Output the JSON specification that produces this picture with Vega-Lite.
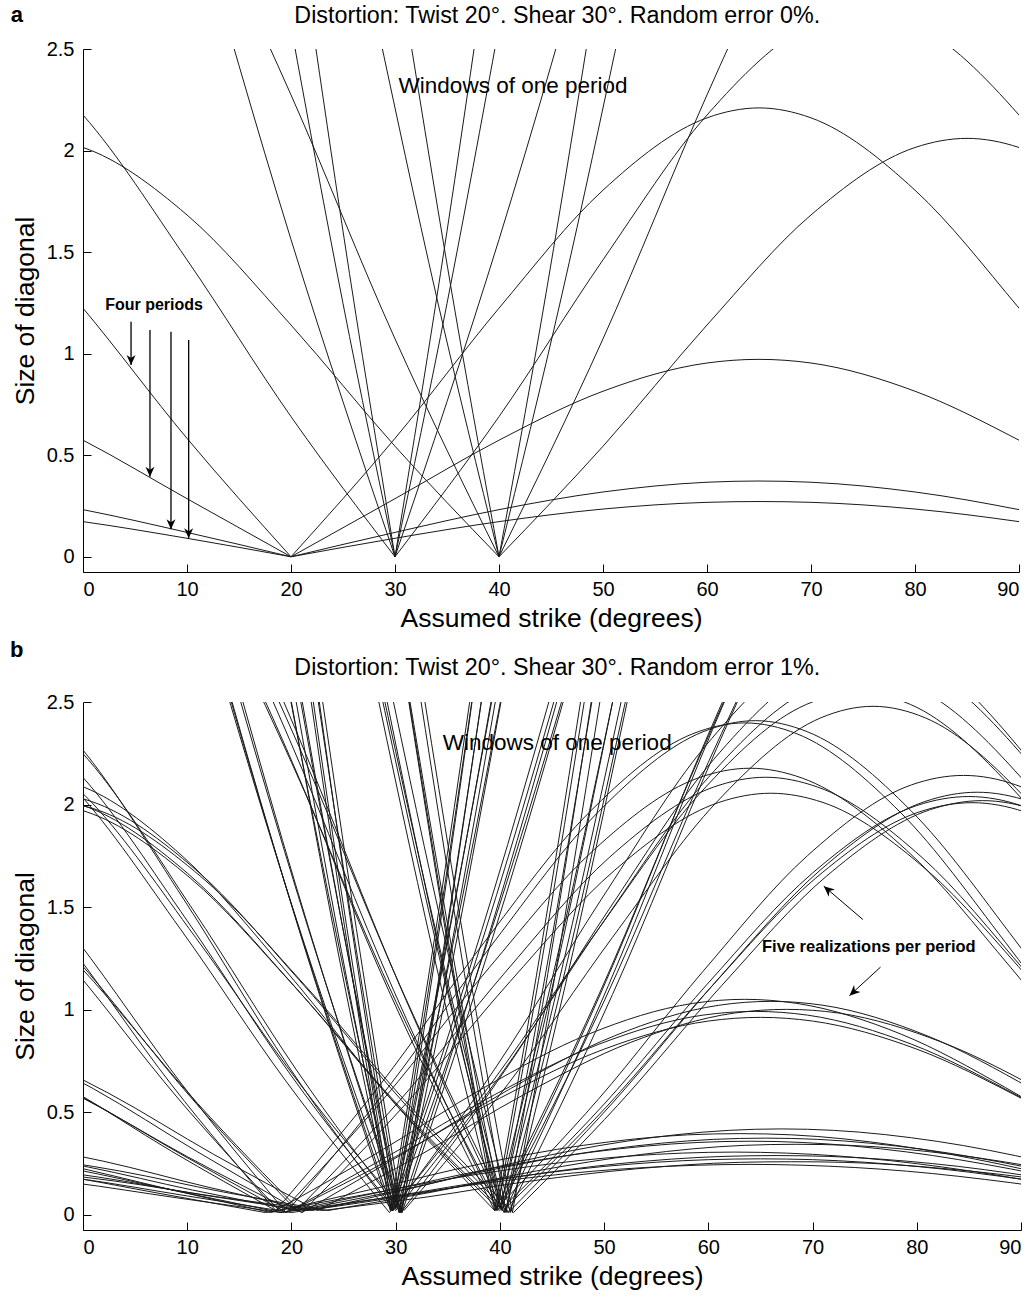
{
"$schema": "https://vega.github.io/schema/vega-lite/v6.json",
"background": "white",
"padding": {"left": 10, "top": 4, "right": 10, "bottom": 5},
"spacing": 6,
"config": {
 "view": {"stroke": null},
 "font": "Liberation Sans",
 "axis": {"domainColor": "black", "tickColor": "black", "labelColor": "black", "titleColor": "black", "labelFont": "Liberation Sans", "titleFont": "Liberation Sans", "labelFontSize": 20, "titleFontSize": 26.5, "titleFontWeight": "normal", "grid": false, "tickSize": -8, "domainWidth": 1, "tickWidth": 1}
},
"datasets": {
 "ca": [
{"s":"1L","x":-10,"y":0.235},{"s":"1L","x":0,"y":0.173},{"s":"1L","x":10,"y":0.091},{"s":"1L","x":20,"y":0},
{"s":"1R","x":20,"y":0},{"s":"1R","x":30,"y":0.091},{"s":"1R","x":40,"y":0.173},{"s":"1R","x":50,"y":0.235},{"s":"1R","x":60,"y":0.268},{"s":"1R","x":65,"y":0.272},{"s":"1R","x":70,"y":0.268},{"s":"1R","x":80,"y":0.235},{"s":"1R","x":90,"y":0.173},{"s":"1R","x":100,"y":0.091},
{"s":"2L","x":-10,"y":0.319},{"s":"2L","x":0,"y":0.232},{"s":"2L","x":10,"y":0.120},{"s":"2L","x":20,"y":0},
{"s":"2R","x":20,"y":0},{"s":"2R","x":30,"y":0.120},{"s":"2R","x":40,"y":0.232},{"s":"2R","x":50,"y":0.319},{"s":"2R","x":60,"y":0.367},{"s":"2R","x":65,"y":0.373},{"s":"2R","x":70,"y":0.367},{"s":"2R","x":80,"y":0.319},{"s":"2R","x":90,"y":0.232},{"s":"2R","x":100,"y":0.120},
{"s":"3L","x":-10,"y":0.815},{"s":"3L","x":0,"y":0.574},{"s":"3L","x":10,"y":0.286},{"s":"3L","x":20,"y":0},
{"s":"3R","x":20,"y":0},{"s":"3R","x":30,"y":0.286},{"s":"3R","x":40,"y":0.574},{"s":"3R","x":50,"y":0.815},{"s":"3R","x":60,"y":0.954},{"s":"3R","x":65,"y":0.972},{"s":"3R","x":70,"y":0.954},{"s":"3R","x":80,"y":0.815},{"s":"3R","x":90,"y":0.574},{"s":"3R","x":100,"y":0.286},
{"s":"4L","x":-10,"y":1.805},{"s":"4L","x":0,"y":1.224},{"s":"4L","x":10,"y":0.583},{"s":"4L","x":20,"y":0},
{"s":"4R","x":20,"y":0},{"s":"4R","x":30,"y":0.583},{"s":"4R","x":40,"y":1.224},{"s":"4R","x":50,"y":1.805},{"s":"4R","x":60,"y":2.161},{"s":"4R","x":65,"y":2.21},{"s":"4R","x":70,"y":2.161},{"s":"4R","x":80,"y":1.805},{"s":"4R","x":90,"y":1.224},{"s":"4R","x":100,"y":0.583},
{"s":"5L","x":-10,"y":2.015},{"s":"5L","x":-5,"y":2.06},{"s":"5L","x":0,"y":2.015},{"s":"5L","x":10,"y":1.683},{"s":"5L","x":20,"y":1.141},{"s":"5L","x":30,"y":0.544},{"s":"5L","x":40,"y":0},
{"s":"5R","x":40,"y":0},{"s":"5R","x":50,"y":0.544},{"s":"5R","x":60,"y":1.141},{"s":"5R","x":70,"y":1.683},{"s":"5R","x":80,"y":2.015},{"s":"5R","x":85,"y":2.06},{"s":"5R","x":90,"y":2.015},{"s":"5R","x":100,"y":1.683},
{"s":"6L","x":-10,"y":2.619},{"s":"6L","x":0,"y":2.175},{"s":"6L","x":10,"y":1.462},{"s":"6L","x":20,"y":0.690},{"s":"6L","x":30,"y":0},
{"s":"6R","x":30,"y":0},{"s":"6R","x":40,"y":0.690},{"s":"6R","x":50,"y":1.462},{"s":"6R","x":60,"y":2.175},{"s":"6R","x":70,"y":2.619},{"s":"6R","x":75,"y":2.68},{"s":"6R","x":80,"y":2.619},{"s":"6R","x":90,"y":2.175},{"s":"6R","x":100,"y":1.462},
{"s":"7L","x":10,"y":3.384},{"s":"7L","x":20,"y":2.274},{"s":"7L","x":30,"y":1.073},{"s":"7L","x":40,"y":0},
{"s":"7R","x":40,"y":0},{"s":"7R","x":50,"y":1.073},{"s":"7R","x":60,"y":2.274},{"s":"7R","x":70,"y":3.384},
{"s":"8L","x":10,"y":3.31},{"s":"8L","x":20,"y":1.562},{"s":"8L","x":30,"y":0},
{"s":"8R","x":30,"y":0},{"s":"8R","x":40,"y":1.562},{"s":"8R","x":50,"y":3.31},
{"s":"9L","x":20,"y":2.611},{"s":"9L","x":25,"y":1.247},{"s":"9L","x":30,"y":0},
{"s":"9R","x":30,"y":0},{"s":"9R","x":35,"y":1.247},{"s":"9R","x":40,"y":2.611},
{"s":"10L","x":22,"y":2.64},{"s":"10L","x":25,"y":1.603},{"s":"10L","x":30,"y":0},
{"s":"10R","x":30,"y":0},{"s":"10R","x":35,"y":1.603},{"s":"10R","x":38,"y":2.64},
{"s":"11L","x":28,"y":2.69},{"s":"11L","x":34,"y":1.279},{"s":"11L","x":40,"y":0},
{"s":"11R","x":40,"y":0},{"s":"11R","x":46,"y":1.279},{"s":"11R","x":52,"y":2.69},
{"s":"12L","x":31,"y":2.694},{"s":"12L","x":36,"y":1.141},{"s":"12L","x":40,"y":0},
{"s":"12R","x":40,"y":0},{"s":"12R","x":44,"y":1.141},{"s":"12R","x":49,"y":2.694}
 ],
 "cb": [
{"s":"1aL","x":-12.5,"y":0.263},{"s":"1aL","x":-2.5,"y":0.194},{"s":"1aL","x":7.5,"y":0.102},{"s":"1aL","x":17.5,"y":0.01},
{"s":"1aR","x":17.5,"y":0.01},{"s":"1aR","x":27.5,"y":0.102},{"s":"1aR","x":37.5,"y":0.194},{"s":"1aR","x":47.5,"y":0.263},{"s":"1aR","x":57.5,"y":0.300},{"s":"1aR","x":62.5,"y":0.305},{"s":"1aR","x":67.5,"y":0.300},{"s":"1aR","x":77.5,"y":0.263},{"s":"1aR","x":87.5,"y":0.194},{"s":"1aR","x":97.5,"y":0.102},
{"s":"1bL","x":-8.5,"y":0.249},{"s":"1bL","x":1.5,"y":0.183},{"s":"1bL","x":11.5,"y":0.096},{"s":"1bL","x":21.5,"y":0.02},
{"s":"1bR","x":21.5,"y":0.02},{"s":"1bR","x":31.5,"y":0.096},{"s":"1bR","x":41.5,"y":0.183},{"s":"1bR","x":51.5,"y":0.249},{"s":"1bR","x":61.5,"y":0.284},{"s":"1bR","x":66.5,"y":0.288},{"s":"1bR","x":71.5,"y":0.284},{"s":"1bR","x":81.5,"y":0.249},{"s":"1bR","x":91.5,"y":0.183},{"s":"1bR","x":101.5,"y":0.096},
{"s":"1cL","x":-10,"y":0.235},{"s":"1cL","x":0,"y":0.173},{"s":"1cL","x":10,"y":0.091},{"s":"1cL","x":20,"y":0.01},
{"s":"1cR","x":20,"y":0.01},{"s":"1cR","x":30,"y":0.091},{"s":"1cR","x":40,"y":0.173},{"s":"1cR","x":50,"y":0.235},{"s":"1cR","x":60,"y":0.268},{"s":"1cR","x":65,"y":0.272},{"s":"1cR","x":70,"y":0.268},{"s":"1cR","x":80,"y":0.235},{"s":"1cR","x":90,"y":0.173},{"s":"1cR","x":100,"y":0.091},
{"s":"1dL","x":-7,"y":0.223},{"s":"1dL","x":3,"y":0.164},{"s":"1dL","x":13,"y":0.086},{"s":"1dL","x":23,"y":0.02},
{"s":"1dR","x":23,"y":0.02},{"s":"1dR","x":33,"y":0.086},{"s":"1dR","x":43,"y":0.164},{"s":"1dR","x":53,"y":0.223},{"s":"1dR","x":63,"y":0.255},{"s":"1dR","x":68,"y":0.258},{"s":"1dR","x":73,"y":0.255},{"s":"1dR","x":83,"y":0.223},{"s":"1dR","x":93,"y":0.164},{"s":"1dR","x":103,"y":0.086},
{"s":"1eL","x":-11,"y":0.212},{"s":"1eL","x":-1,"y":0.156},{"s":"1eL","x":9,"y":0.082},{"s":"1eL","x":19,"y":0.01},
{"s":"1eR","x":19,"y":0.01},{"s":"1eR","x":29,"y":0.082},{"s":"1eR","x":39,"y":0.156},{"s":"1eR","x":49,"y":0.212},{"s":"1eR","x":59,"y":0.241},{"s":"1eR","x":64,"y":0.245},{"s":"1eR","x":69,"y":0.241},{"s":"1eR","x":79,"y":0.212},{"s":"1eR","x":89,"y":0.156},{"s":"1eR","x":99,"y":0.082},
{"s":"2aL","x":-8,"y":0.357},{"s":"2aL","x":2,"y":0.260},{"s":"2aL","x":12,"y":0.134},{"s":"2aL","x":22,"y":0.02},
{"s":"2aR","x":22,"y":0.02},{"s":"2aR","x":32,"y":0.134},{"s":"2aR","x":42,"y":0.260},{"s":"2aR","x":52,"y":0.357},{"s":"2aR","x":62,"y":0.411},{"s":"2aR","x":67,"y":0.418},{"s":"2aR","x":72,"y":0.411},{"s":"2aR","x":82,"y":0.357},{"s":"2aR","x":92,"y":0.260},{"s":"2aR","x":102,"y":0.134},
{"s":"2bL","x":-12,"y":0.338},{"s":"2bL","x":-2,"y":0.246},{"s":"2bL","x":8,"y":0.127},{"s":"2bL","x":18,"y":0.01},
{"s":"2bR","x":18,"y":0.01},{"s":"2bR","x":28,"y":0.127},{"s":"2bR","x":38,"y":0.246},{"s":"2bR","x":48,"y":0.338},{"s":"2bR","x":58,"y":0.389},{"s":"2bR","x":63,"y":0.395},{"s":"2bR","x":68,"y":0.389},{"s":"2bR","x":78,"y":0.338},{"s":"2bR","x":88,"y":0.246},{"s":"2bR","x":98,"y":0.127},
{"s":"2cL","x":-9.5,"y":0.319},{"s":"2cL","x":0.5,"y":0.232},{"s":"2cL","x":10.5,"y":0.120},{"s":"2cL","x":20.5,"y":0.02},
{"s":"2cR","x":20.5,"y":0.02},{"s":"2cR","x":30.5,"y":0.120},{"s":"2cR","x":40.5,"y":0.232},{"s":"2cR","x":50.5,"y":0.319},{"s":"2cR","x":60.5,"y":0.367},{"s":"2cR","x":65.5,"y":0.373},{"s":"2cR","x":70.5,"y":0.367},{"s":"2cR","x":80.5,"y":0.319},{"s":"2cR","x":90.5,"y":0.232},{"s":"2cR","x":100.5,"y":0.120},
{"s":"2dL","x":-11,"y":0.306},{"s":"2dL","x":-1,"y":0.223},{"s":"2dL","x":9,"y":0.115},{"s":"2dL","x":19,"y":0.01},
{"s":"2dR","x":19,"y":0.01},{"s":"2dR","x":29,"y":0.115},{"s":"2dR","x":39,"y":0.223},{"s":"2dR","x":49,"y":0.306},{"s":"2dR","x":59,"y":0.352},{"s":"2dR","x":64,"y":0.358},{"s":"2dR","x":69,"y":0.352},{"s":"2dR","x":79,"y":0.306},{"s":"2dR","x":89,"y":0.223},{"s":"2dR","x":99,"y":0.115},
{"s":"2eL","x":-6.5,"y":0.293},{"s":"2eL","x":3.5,"y":0.213},{"s":"2eL","x":13.5,"y":0.110},{"s":"2eL","x":23.5,"y":0.02},
{"s":"2eR","x":23.5,"y":0.02},{"s":"2eR","x":33.5,"y":0.110},{"s":"2eR","x":43.5,"y":0.213},{"s":"2eR","x":53.5,"y":0.293},{"s":"2eR","x":63.5,"y":0.338},{"s":"2eR","x":68.5,"y":0.343},{"s":"2eR","x":73.5,"y":0.338},{"s":"2eR","x":83.5,"y":0.293},{"s":"2eR","x":93.5,"y":0.213},{"s":"2eR","x":103.5,"y":0.110},
{"s":"3aL","x":-11.5,"y":0.880},{"s":"3aL","x":-1.5,"y":0.620},{"s":"3aL","x":8.5,"y":0.309},{"s":"3aL","x":18.5,"y":0.02},
{"s":"3aR","x":18.5,"y":0.02},{"s":"3aR","x":28.5,"y":0.309},{"s":"3aR","x":38.5,"y":0.620},{"s":"3aR","x":48.5,"y":0.880},{"s":"3aR","x":58.5,"y":1.030},{"s":"3aR","x":63.5,"y":1.050},{"s":"3aR","x":68.5,"y":1.030},{"s":"3aR","x":78.5,"y":0.880},{"s":"3aR","x":88.5,"y":0.620},{"s":"3aR","x":98.5,"y":0.309},
{"s":"3bL","x":-9,"y":0.872},{"s":"3bL","x":1,"y":0.614},{"s":"3bL","x":11,"y":0.306},{"s":"3bL","x":21,"y":0.01},
{"s":"3bR","x":21,"y":0.01},{"s":"3bR","x":31,"y":0.306},{"s":"3bR","x":41,"y":0.614},{"s":"3bR","x":51,"y":0.872},{"s":"3bR","x":61,"y":1.021},{"s":"3bR","x":66,"y":1.040},{"s":"3bR","x":71,"y":1.021},{"s":"3bR","x":81,"y":0.872},{"s":"3bR","x":91,"y":0.614},{"s":"3bR","x":101,"y":0.306},
{"s":"3cL","x":-7.5,"y":0.839},{"s":"3cL","x":2.5,"y":0.591},{"s":"3cL","x":12.5,"y":0.295},{"s":"3cL","x":22.5,"y":0.02},
{"s":"3cR","x":22.5,"y":0.02},{"s":"3cR","x":32.5,"y":0.295},{"s":"3cR","x":42.5,"y":0.591},{"s":"3cR","x":52.5,"y":0.839},{"s":"3cR","x":62.5,"y":0.983},{"s":"3cR","x":67.5,"y":1.001},{"s":"3cR","x":72.5,"y":0.983},{"s":"3cR","x":82.5,"y":0.839},{"s":"3cR","x":92.5,"y":0.591},{"s":"3cR","x":102.5,"y":0.295},
{"s":"3dL","x":-10.5,"y":0.831},{"s":"3dL","x":-0.5,"y":0.585},{"s":"3dL","x":9.5,"y":0.292},{"s":"3dL","x":19.5,"y":0.01},
{"s":"3dR","x":19.5,"y":0.01},{"s":"3dR","x":29.5,"y":0.292},{"s":"3dR","x":39.5,"y":0.585},{"s":"3dR","x":49.5,"y":0.831},{"s":"3dR","x":59.5,"y":0.973},{"s":"3dR","x":64.5,"y":0.991},{"s":"3dR","x":69.5,"y":0.973},{"s":"3dR","x":79.5,"y":0.831},{"s":"3dR","x":89.5,"y":0.585},{"s":"3dR","x":99.5,"y":0.292},
{"s":"3eL","x":-10,"y":0.807},{"s":"3eL","x":0,"y":0.568},{"s":"3eL","x":10,"y":0.283},{"s":"3eL","x":20,"y":0.02},
{"s":"3eR","x":20,"y":0.02},{"s":"3eR","x":30,"y":0.283},{"s":"3eR","x":40,"y":0.568},{"s":"3eR","x":50,"y":0.807},{"s":"3eR","x":60,"y":0.944},{"s":"3eR","x":65,"y":0.962},{"s":"3eR","x":70,"y":0.944},{"s":"3eR","x":80,"y":0.807},{"s":"3eR","x":90,"y":0.568},{"s":"3eR","x":100,"y":0.283},
{"s":"4aL","x":-10.5,"y":1.967},{"s":"4aL","x":-0.5,"y":1.334},{"s":"4aL","x":9.5,"y":0.635},{"s":"4aL","x":19.5,"y":0.01},
{"s":"4aR","x":19.5,"y":0.01},{"s":"4aR","x":29.5,"y":0.635},{"s":"4aR","x":39.5,"y":1.334},{"s":"4aR","x":49.5,"y":1.967},{"s":"4aR","x":59.5,"y":2.355},{"s":"4aR","x":64.5,"y":2.409},{"s":"4aR","x":69.5,"y":2.355},{"s":"4aR","x":79.5,"y":1.967},{"s":"4aR","x":89.5,"y":1.334},{"s":"4aR","x":99.5,"y":0.635},
{"s":"4bL","x":-11.5,"y":1.958},{"s":"4bL","x":-1.5,"y":1.328},{"s":"4bL","x":8.5,"y":0.633},{"s":"4bL","x":18.5,"y":0.02},
{"s":"4bR","x":18.5,"y":0.02},{"s":"4bR","x":28.5,"y":0.633},{"s":"4bR","x":38.5,"y":1.328},{"s":"4bR","x":48.5,"y":1.958},{"s":"4bR","x":58.5,"y":2.345},{"s":"4bR","x":63.5,"y":2.398},{"s":"4bR","x":68.5,"y":2.345},{"s":"4bR","x":78.5,"y":1.958},{"s":"4bR","x":88.5,"y":1.328},{"s":"4bR","x":98.5,"y":0.633},
{"s":"4cL","x":-11,"y":1.778},{"s":"4cL","x":-1,"y":1.206},{"s":"4cL","x":9,"y":0.574},{"s":"4cL","x":19,"y":0.01},
{"s":"4cR","x":19,"y":0.01},{"s":"4cR","x":29,"y":0.574},{"s":"4cR","x":39,"y":1.206},{"s":"4cR","x":49,"y":1.778},{"s":"4cR","x":59,"y":2.129},{"s":"4cR","x":64,"y":2.177},{"s":"4cR","x":69,"y":2.129},{"s":"4cR","x":79,"y":1.778},{"s":"4cR","x":89,"y":1.206},{"s":"4cR","x":99,"y":0.574},
{"s":"4dL","x":-9.5,"y":1.742},{"s":"4dL","x":0.5,"y":1.181},{"s":"4dL","x":10.5,"y":0.563},{"s":"4dL","x":20.5,"y":0.02},
{"s":"4dR","x":20.5,"y":0.02},{"s":"4dR","x":30.5,"y":0.563},{"s":"4dR","x":40.5,"y":1.181},{"s":"4dR","x":50.5,"y":1.742},{"s":"4dR","x":60.5,"y":2.085},{"s":"4dR","x":65.5,"y":2.133},{"s":"4dR","x":70.5,"y":2.085},{"s":"4dR","x":80.5,"y":1.742},{"s":"4dR","x":90.5,"y":1.181},{"s":"4dR","x":100.5,"y":0.563},
{"s":"4eL","x":-9,"y":1.679},{"s":"4eL","x":1,"y":1.138},{"s":"4eL","x":11,"y":0.542},{"s":"4eL","x":21,"y":0.01},
{"s":"4eR","x":21,"y":0.01},{"s":"4eR","x":31,"y":0.542},{"s":"4eR","x":41,"y":1.138},{"s":"4eR","x":51,"y":1.679},{"s":"4eR","x":61,"y":2.010},{"s":"4eR","x":66,"y":2.055},{"s":"4eR","x":71,"y":2.010},{"s":"4eR","x":81,"y":1.679},{"s":"4eR","x":91,"y":1.138},{"s":"4eR","x":101,"y":0.542},
{"s":"5aL","x":-10.5,"y":2.096},{"s":"5aL","x":-5.5,"y":2.142},{"s":"5aL","x":-0.5,"y":2.096},{"s":"5aL","x":9.5,"y":1.750},{"s":"5aL","x":19.5,"y":1.187},{"s":"5aL","x":29.5,"y":0.566},{"s":"5aL","x":39.5,"y":0.02},
{"s":"5aR","x":39.5,"y":0.02},{"s":"5aR","x":49.5,"y":0.566},{"s":"5aR","x":59.5,"y":1.187},{"s":"5aR","x":69.5,"y":1.750},{"s":"5aR","x":79.5,"y":2.096},{"s":"5aR","x":84.5,"y":2.142},{"s":"5aR","x":89.5,"y":2.096},{"s":"5aR","x":99.5,"y":1.750},
{"s":"5bL","x":-9.2,"y":2.015},{"s":"5bL","x":-4.2,"y":2.06},{"s":"5bL","x":0.8,"y":2.015},{"s":"5bL","x":10.8,"y":1.683},{"s":"5bL","x":20.8,"y":1.141},{"s":"5bL","x":30.8,"y":0.544},{"s":"5bL","x":40.8,"y":0.01},
{"s":"5bR","x":40.8,"y":0.01},{"s":"5bR","x":50.8,"y":0.544},{"s":"5bR","x":60.8,"y":1.141},{"s":"5bR","x":70.8,"y":1.683},{"s":"5bR","x":80.8,"y":2.015},{"s":"5bR","x":85.8,"y":2.06},{"s":"5bR","x":90.8,"y":2.015},{"s":"5bR","x":100.8,"y":1.683},
{"s":"5cL","x":-10,"y":1.995},{"s":"5cL","x":-5,"y":2.039},{"s":"5cL","x":0,"y":1.995},{"s":"5cL","x":10,"y":1.666},{"s":"5cL","x":20,"y":1.130},{"s":"5cL","x":30,"y":0.539},{"s":"5cL","x":40,"y":0.02},
{"s":"5cR","x":40,"y":0.02},{"s":"5cR","x":50,"y":0.539},{"s":"5cR","x":60,"y":1.130},{"s":"5cR","x":70,"y":1.666},{"s":"5cR","x":80,"y":1.995},{"s":"5cR","x":85,"y":2.039},{"s":"5cR","x":90,"y":1.995},{"s":"5cR","x":100,"y":1.666},
{"s":"5dL","x":-8.7,"y":1.975},{"s":"5dL","x":-3.7,"y":2.019},{"s":"5dL","x":1.3,"y":1.975},{"s":"5dL","x":11.3,"y":1.649},{"s":"5dL","x":21.3,"y":1.118},{"s":"5dL","x":31.3,"y":0.533},{"s":"5dL","x":41.3,"y":0.01},
{"s":"5dR","x":41.3,"y":0.01},{"s":"5dR","x":51.3,"y":0.533},{"s":"5dR","x":61.3,"y":1.118},{"s":"5dR","x":71.3,"y":1.649},{"s":"5dR","x":81.3,"y":1.975},{"s":"5dR","x":86.3,"y":2.019},{"s":"5dR","x":91.3,"y":1.975},{"s":"5dR","x":101.3,"y":1.649},
{"s":"5eL","x":-9.7,"y":1.965},{"s":"5eL","x":-4.7,"y":2.009},{"s":"5eL","x":0.3,"y":1.965},{"s":"5eL","x":10.3,"y":1.641},{"s":"5eL","x":20.3,"y":1.112},{"s":"5eL","x":30.3,"y":0.530},{"s":"5eL","x":40.3,"y":0.02},
{"s":"5eR","x":40.3,"y":0.02},{"s":"5eR","x":50.3,"y":0.530},{"s":"5eR","x":60.3,"y":1.112},{"s":"5eR","x":70.3,"y":1.641},{"s":"5eR","x":80.3,"y":1.965},{"s":"5eR","x":85.3,"y":2.009},{"s":"5eR","x":90.3,"y":1.965},{"s":"5eR","x":100.3,"y":1.641},
{"s":"6aL","x":-10.3,"y":2.750},{"s":"6aL","x":-0.3,"y":2.284},{"s":"6aL","x":9.7,"y":1.535},{"s":"6aL","x":19.7,"y":0.725},{"s":"6aL","x":29.7,"y":0.02},
{"s":"6aR","x":29.7,"y":0.02},{"s":"6aR","x":39.7,"y":0.725},{"s":"6aR","x":49.7,"y":1.535},{"s":"6aR","x":59.7,"y":2.284},{"s":"6aR","x":69.7,"y":2.750},{"s":"6aR","x":74.7,"y":2.814},{"s":"6aR","x":79.7,"y":2.750},{"s":"6aR","x":89.7,"y":2.284},{"s":"6aR","x":99.7,"y":1.535},
{"s":"6bL","x":-9.5,"y":2.671},{"s":"6bL","x":0.5,"y":2.219},{"s":"6bL","x":10.5,"y":1.491},{"s":"6bL","x":20.5,"y":0.704},{"s":"6bL","x":30.5,"y":0.01},
{"s":"6bR","x":30.5,"y":0.01},{"s":"6bR","x":40.5,"y":0.704},{"s":"6bR","x":50.5,"y":1.491},{"s":"6bR","x":60.5,"y":2.219},{"s":"6bR","x":70.5,"y":2.671},{"s":"6bR","x":75.5,"y":2.734},{"s":"6bR","x":80.5,"y":2.671},{"s":"6bR","x":90.5,"y":2.219},{"s":"6bR","x":100.5,"y":1.491},
{"s":"6cL","x":-10,"y":2.567},{"s":"6cL","x":0,"y":2.132},{"s":"6cL","x":10,"y":1.433},{"s":"6cL","x":20,"y":0.676},{"s":"6cL","x":30,"y":0.02},
{"s":"6cR","x":30,"y":0.02},{"s":"6cR","x":40,"y":0.676},{"s":"6cR","x":50,"y":1.433},{"s":"6cR","x":60,"y":2.132},{"s":"6cR","x":70,"y":2.567},{"s":"6cR","x":75,"y":2.626},{"s":"6cR","x":80,"y":2.567},{"s":"6cR","x":90,"y":2.132},{"s":"6cR","x":100,"y":1.433},
{"s":"6dL","x":-10.6,"y":2.488},{"s":"6dL","x":-0.6,"y":2.066},{"s":"6dL","x":9.4,"y":1.389},{"s":"6dL","x":19.4,"y":0.656},{"s":"6dL","x":29.4,"y":0.01},
{"s":"6dR","x":29.4,"y":0.01},{"s":"6dR","x":39.4,"y":0.656},{"s":"6dR","x":49.4,"y":1.389},{"s":"6dR","x":59.4,"y":2.066},{"s":"6dR","x":69.4,"y":2.488},{"s":"6dR","x":74.4,"y":2.546},{"s":"6dR","x":79.4,"y":2.488},{"s":"6dR","x":89.4,"y":2.066},{"s":"6dR","x":99.4,"y":1.389},
{"s":"6eL","x":-9.2,"y":2.423},{"s":"6eL","x":0.8,"y":2.012},{"s":"6eL","x":10.8,"y":1.352},{"s":"6eL","x":20.8,"y":0.638},{"s":"6eL","x":30.8,"y":0.02},
{"s":"6eR","x":30.8,"y":0.02},{"s":"6eR","x":40.8,"y":0.638},{"s":"6eR","x":50.8,"y":1.352},{"s":"6eR","x":60.8,"y":2.012},{"s":"6eR","x":70.8,"y":2.423},{"s":"6eR","x":75.8,"y":2.479},{"s":"6eR","x":80.8,"y":2.423},{"s":"6eR","x":90.8,"y":2.012},{"s":"6eR","x":100.8,"y":1.352},
{"s":"7aL","x":9.5,"y":3.384},{"s":"7aL","x":19.5,"y":2.274},{"s":"7aL","x":29.5,"y":1.073},{"s":"7aL","x":39.5,"y":0.02},
{"s":"7aR","x":39.5,"y":0.02},{"s":"7aR","x":49.5,"y":1.073},{"s":"7aR","x":59.5,"y":2.274},{"s":"7aR","x":69.5,"y":3.384},
{"s":"7bL","x":10.4,"y":3.519},{"s":"7bL","x":20.4,"y":2.365},{"s":"7bL","x":30.4,"y":1.116},{"s":"7bL","x":40.4,"y":0.01},
{"s":"7bR","x":40.4,"y":0.01},{"s":"7bR","x":50.4,"y":1.116},{"s":"7bR","x":60.4,"y":2.365},{"s":"7bR","x":70.4,"y":3.519},
{"s":"7cL","x":10,"y":3.282},{"s":"7cL","x":20,"y":2.206},{"s":"7cL","x":30,"y":1.041},{"s":"7cL","x":40,"y":0.03},
{"s":"7cR","x":40,"y":0.03},{"s":"7cR","x":50,"y":1.041},{"s":"7cR","x":60,"y":2.206},{"s":"7cR","x":70,"y":3.282},
{"s":"7dL","x":10.8,"y":3.384},{"s":"7dL","x":20.8,"y":2.274},{"s":"7dL","x":30.8,"y":1.073},{"s":"7dL","x":40.8,"y":0.01},
{"s":"7dR","x":40.8,"y":0.01},{"s":"7dR","x":50.8,"y":1.073},{"s":"7dR","x":60.8,"y":2.274},{"s":"7dR","x":70.8,"y":3.384},
{"s":"7eL","x":9.8,"y":3.452},{"s":"7eL","x":19.8,"y":2.319},{"s":"7eL","x":29.8,"y":1.094},{"s":"7eL","x":39.8,"y":0.02},
{"s":"7eR","x":39.8,"y":0.02},{"s":"7eR","x":49.8,"y":1.094},{"s":"7eR","x":59.8,"y":2.319},{"s":"7eR","x":69.8,"y":3.452},
{"s":"8aL","x":9.7,"y":3.31},{"s":"8aL","x":19.7,"y":1.562},{"s":"8aL","x":29.7,"y":0.02},
{"s":"8aR","x":29.7,"y":0.02},{"s":"8aR","x":39.7,"y":1.562},{"s":"8aR","x":49.7,"y":3.31},
{"s":"8bL","x":10.4,"y":3.409},{"s":"8bL","x":20.4,"y":1.609},{"s":"8bL","x":30.4,"y":0.01},
{"s":"8bR","x":30.4,"y":0.01},{"s":"8bR","x":40.4,"y":1.609},{"s":"8bR","x":50.4,"y":3.409},
{"s":"8cL","x":10,"y":3.211},{"s":"8cL","x":20,"y":1.515},{"s":"8cL","x":30,"y":0.03},
{"s":"8cR","x":30,"y":0.03},{"s":"8cR","x":40,"y":1.515},{"s":"8cR","x":50,"y":3.211},
{"s":"8dL","x":10.6,"y":3.31},{"s":"8dL","x":20.6,"y":1.562},{"s":"8dL","x":30.6,"y":0.01},
{"s":"8dR","x":30.6,"y":0.01},{"s":"8dR","x":40.6,"y":1.562},{"s":"8dR","x":50.6,"y":3.31},
{"s":"8eL","x":9.5,"y":3.376},{"s":"8eL","x":19.5,"y":1.593},{"s":"8eL","x":29.5,"y":0.02},
{"s":"8eR","x":29.5,"y":0.02},{"s":"8eR","x":39.5,"y":1.593},{"s":"8eR","x":49.5,"y":3.376},
{"s":"9aL","x":19.6,"y":2.611},{"s":"9aL","x":24.6,"y":1.247},{"s":"9aL","x":29.6,"y":0.02},
{"s":"9aR","x":29.6,"y":0.02},{"s":"9aR","x":34.6,"y":1.247},{"s":"9aR","x":39.6,"y":2.611},
{"s":"9bL","x":20.3,"y":2.715},{"s":"9bL","x":25.3,"y":1.297},{"s":"9bL","x":30.3,"y":0.01},
{"s":"9bR","x":30.3,"y":0.01},{"s":"9bR","x":35.3,"y":1.297},{"s":"9bR","x":40.3,"y":2.715},
{"s":"9cL","x":19.5,"y":2.62},{"s":"9cL","x":25,"y":1.197},{"s":"9cL","x":30,"y":0.03},
{"s":"9cR","x":30,"y":0.03},{"s":"9cR","x":35,"y":1.197},{"s":"9cR","x":40.5,"y":2.62},
{"s":"9dL","x":20.5,"y":2.611},{"s":"9dL","x":25.5,"y":1.247},{"s":"9dL","x":30.5,"y":0.01},
{"s":"9dR","x":30.5,"y":0.01},{"s":"9dR","x":35.5,"y":1.247},{"s":"9dR","x":40.5,"y":2.611},
{"s":"9eL","x":19.8,"y":2.689},{"s":"9eL","x":24.8,"y":1.284},{"s":"9eL","x":29.8,"y":0.02},
{"s":"9eR","x":29.8,"y":0.02},{"s":"9eR","x":34.8,"y":1.284},{"s":"9eR","x":39.8,"y":2.689},
{"s":"10aL","x":21.7,"y":2.64},{"s":"10aL","x":24.7,"y":1.603},{"s":"10aL","x":29.7,"y":0.02},
{"s":"10aR","x":29.7,"y":0.02},{"s":"10aR","x":34.7,"y":1.603},{"s":"10aR","x":37.7,"y":2.64},
{"s":"10bL","x":22.4,"y":2.561},{"s":"10bL","x":25.4,"y":1.555},{"s":"10bL","x":30.4,"y":0.01},
{"s":"10bR","x":30.4,"y":0.01},{"s":"10bR","x":35.4,"y":1.555},{"s":"10bR","x":38.4,"y":2.561},
{"s":"10cL","x":22,"y":2.746},{"s":"10cL","x":25,"y":1.667},{"s":"10cL","x":30,"y":0.03},
{"s":"10cR","x":30,"y":0.03},{"s":"10cR","x":35,"y":1.667},{"s":"10cR","x":38,"y":2.746},
{"s":"10dL","x":22.6,"y":2.64},{"s":"10dL","x":25.6,"y":1.603},{"s":"10dL","x":30.6,"y":0.01},
{"s":"10dR","x":30.6,"y":0.01},{"s":"10dR","x":35.6,"y":1.603},{"s":"10dR","x":38.6,"y":2.64},
{"s":"10eL","x":21.5,"y":2.64},{"s":"10eL","x":24.5,"y":1.603},{"s":"10eL","x":29.5,"y":0.02},
{"s":"10eR","x":29.5,"y":0.02},{"s":"10eR","x":34.5,"y":1.603},{"s":"10eR","x":37.5,"y":2.64},
{"s":"11aL","x":27.6,"y":2.69},{"s":"11aL","x":33.6,"y":1.279},{"s":"11aL","x":39.6,"y":0.02},
{"s":"11aR","x":39.6,"y":0.02},{"s":"11aR","x":45.6,"y":1.279},{"s":"11aR","x":51.6,"y":2.69},
{"s":"11bL","x":28.5,"y":2.609},{"s":"11bL","x":34.5,"y":1.241},{"s":"11bL","x":40.5,"y":0.01},
{"s":"11bR","x":40.5,"y":0.01},{"s":"11bR","x":46.5,"y":1.241},{"s":"11bR","x":52.5,"y":2.609},
{"s":"11cL","x":28,"y":2.798},{"s":"11cL","x":34,"y":1.330},{"s":"11cL","x":40,"y":0.03},
{"s":"11cR","x":40,"y":0.03},{"s":"11cR","x":46,"y":1.330},{"s":"11cR","x":52,"y":2.798},
{"s":"11dL","x":29,"y":2.69},{"s":"11dL","x":35,"y":1.279},{"s":"11dL","x":41,"y":0.01},
{"s":"11dR","x":41,"y":0.01},{"s":"11dR","x":47,"y":1.279},{"s":"11dR","x":53,"y":2.69},
{"s":"11eL","x":28.2,"y":2.636},{"s":"11eL","x":34.2,"y":1.253},{"s":"11eL","x":40.2,"y":0.02},
{"s":"11eR","x":40.2,"y":0.02},{"s":"11eR","x":46.2,"y":1.253},{"s":"11eR","x":52.2,"y":2.636},
{"s":"12aL","x":30.7,"y":2.694},{"s":"12aL","x":35.7,"y":1.141},{"s":"12aL","x":39.7,"y":0.02},
{"s":"12aR","x":39.7,"y":0.02},{"s":"12aR","x":43.7,"y":1.141},{"s":"12aR","x":48.7,"y":2.694},
{"s":"12bL","x":31.6,"y":2.775},{"s":"12bL","x":36.6,"y":1.175},{"s":"12bL","x":40.6,"y":0.01},
{"s":"12bR","x":40.6,"y":0.01},{"s":"12bR","x":44.6,"y":1.175},{"s":"12bR","x":49.6,"y":2.775},
{"s":"12cL","x":31.1,"y":2.586},{"s":"12cL","x":36.1,"y":1.095},{"s":"12cL","x":40.1,"y":0.03},
{"s":"12cR","x":40.1,"y":0.03},{"s":"12cR","x":44.1,"y":1.095},{"s":"12cR","x":49.1,"y":2.586},
{"s":"12dL","x":32.2,"y":2.694},{"s":"12dL","x":37.2,"y":1.141},{"s":"12dL","x":41.2,"y":0.01},
{"s":"12dR","x":41.2,"y":0.01},{"s":"12dR","x":45.2,"y":1.141},{"s":"12dR","x":50.2,"y":2.694},
{"s":"12eL","x":30.5,"y":2.748},{"s":"12eL","x":35.5,"y":1.164},{"s":"12eL","x":39.5,"y":0.02},
{"s":"12eR","x":39.5,"y":0.02},{"s":"12eR","x":43.5,"y":1.164},{"s":"12eR","x":48.5,"y":2.748}
 ],
 "ta": [
  {"k":"lab","t":"a","x":-6.35,"y":2.665},
  {"k":"ttl","t":"Distortion: Twist 20°. Shear 30°. Random error 0%.","x":45.6,"y":2.662},
  {"k":"win","t":"Windows of one period","x":41.35,"y":2.317},
  {"k":"ann","t":"Four periods","x":6.83,"y":1.239}
 ],
 "tb": [
  {"k":"lab","t":"b","x":-6.35,"y":2.756},
  {"k":"ttl","t":"Distortion: Twist 20°. Shear 30°. Random error 1%.","x":45.5,"y":2.668},
  {"k":"win","t":"Windows of one period","x":45.5,"y":2.30},
  {"k":"ann","t":"Five realizations per period","x":75.4,"y":1.306}
 ],
 "aa": [
  {"x":4.62,"y":1.157,"x2":4.62,"y2":0.944,"ang":0},
  {"x":6.44,"y":1.116,"x2":6.44,"y2":0.394,"ang":0},
  {"x":8.46,"y":1.108,"x2":8.46,"y2":0.135,"ang":0},
  {"x":10.16,"y":1.067,"x2":10.16,"y2":0.091,"ang":0}
 ],
 "ab": [
  {"x":74.83,"y":1.439,"x2":71.08,"y2":1.602,"ang":130.5},
  {"x":76.52,"y":1.207,"x2":73.54,"y2":1.068,"ang":47.5}
 ]
},
"vconcat": [
 {
  "width": 936, "height": 523,
  "layer": [
   {"data": {"name": "ca"},
    "mark": {"type": "line", "interpolate": "monotone", "clip": true, "stroke": "#1a1a1a", "strokeWidth": 1},
    "encoding": {
     "x": {"field": "x", "type": "quantitative", "title": "Assumed strike (degrees)", "scale": {"domain": [0, 90], "nice": false, "zero": false}, "axis": {"values": [0,10,20,30,40,50,60,70,80,90], "labelPadding": 15, "titlePadding": 6}},
     "y": {"field": "y", "type": "quantitative", "title": "Size of diagonal", "scale": {"domain": [-0.075, 2.5], "nice": false, "zero": false}, "axis": {"values": [0,0.5,1,1.5,2,2.5], "format": "~g", "labelPadding": 17, "titlePadding": 7}},
     "detail": {"field": "s", "type": "nominal"}
    }},
   {"data": {"name": "aa"},
    "mark": {"type": "rule", "stroke": "black", "strokeWidth": 1.3},
    "encoding": {
     "x": {"field": "x", "type": "quantitative", "title": "Assumed strike (degrees)", "scale": {"domain": [0, 90], "nice": false, "zero": false}},
     "y": {"field": "y", "type": "quantitative", "title": "Size of diagonal", "scale": {"domain": [-0.075, 2.5], "nice": false, "zero": false}},
     "x2": {"field": "x2"}, "y2": {"field": "y2"}
    }},
   {"data": {"name": "aa"},
    "mark": {"type": "point", "shape": "M0,0L-0.45,-1L0,-0.7L0.45,-1Z", "filled": true, "color": "black", "opacity": 1, "size": 400},
    "encoding": {
     "x": {"field": "x2", "type": "quantitative", "title": "Assumed strike (degrees)", "scale": {"domain": [0, 90], "nice": false, "zero": false}},
     "y": {"field": "y2", "type": "quantitative", "title": "Size of diagonal", "scale": {"domain": [-0.075, 2.5], "nice": false, "zero": false}},
     "angle": {"field": "ang", "type": "quantitative", "scale": null}
    }},
   {"data": {"name": "ta"}, "transform": [{"filter": "datum.k == 'lab'"}],
    "mark": {"type": "text", "font": "Liberation Sans", "fontWeight": "bold", "fontSize": 22, "align": "center", "baseline": "middle", "color": "black", "clip": false},
    "encoding": {"x": {"field": "x", "type": "quantitative"}, "y": {"field": "y", "type": "quantitative"}, "text": {"field": "t"}}},
   {"data": {"name": "ta"}, "transform": [{"filter": "datum.k == 'ttl'"}],
    "mark": {"type": "text", "font": "Liberation Sans", "fontSize": 23.3, "align": "center", "baseline": "middle", "color": "black", "clip": false},
    "encoding": {"x": {"field": "x", "type": "quantitative"}, "y": {"field": "y", "type": "quantitative"}, "text": {"field": "t"}}},
   {"data": {"name": "ta"}, "transform": [{"filter": "datum.k == 'win'"}],
    "mark": {"type": "text", "font": "Liberation Sans", "fontSize": 22.5, "align": "center", "baseline": "middle", "color": "black"},
    "encoding": {"x": {"field": "x", "type": "quantitative"}, "y": {"field": "y", "type": "quantitative"}, "text": {"field": "t"}}},
   {"data": {"name": "ta"}, "transform": [{"filter": "datum.k == 'ann'"}],
    "mark": {"type": "text", "font": "Liberation Sans", "fontWeight": "bold", "fontSize": 16, "align": "center", "baseline": "middle", "color": "black"},
    "encoding": {"x": {"field": "x", "type": "quantitative"}, "y": {"field": "y", "type": "quantitative"}, "text": {"field": "t"}}}
  ]
 },
 {
  "width": 938, "height": 528,
  "layer": [
   {"data": {"name": "cb"},
    "mark": {"type": "line", "interpolate": "monotone", "clip": true, "stroke": "#1a1a1a", "strokeWidth": 1},
    "encoding": {
     "x": {"field": "x", "type": "quantitative", "title": "Assumed strike (degrees)", "scale": {"domain": [0, 90], "nice": false, "zero": false}, "axis": {"values": [0,10,20,30,40,50,60,70,80,90], "labelPadding": 15, "titlePadding": 6}},
     "y": {"field": "y", "type": "quantitative", "title": "Size of diagonal", "scale": {"domain": [-0.075, 2.5], "nice": false, "zero": false}, "axis": {"values": [0,0.5,1,1.5,2,2.5], "format": "~g", "labelPadding": 17, "titlePadding": 7}},
     "detail": {"field": "s", "type": "nominal"}
    }},
   {"data": {"name": "ab"},
    "mark": {"type": "rule", "stroke": "black", "strokeWidth": 1},
    "encoding": {
     "x": {"field": "x", "type": "quantitative", "title": "Assumed strike (degrees)", "scale": {"domain": [0, 90], "nice": false, "zero": false}},
     "y": {"field": "y", "type": "quantitative", "title": "Size of diagonal", "scale": {"domain": [-0.075, 2.5], "nice": false, "zero": false}},
     "x2": {"field": "x2"}, "y2": {"field": "y2"}
    }},
   {"data": {"name": "ab"},
    "mark": {"type": "point", "shape": "M0,0L-0.45,-1L0,-0.7L0.45,-1Z", "filled": true, "color": "black", "opacity": 1, "size": 450},
    "encoding": {
     "x": {"field": "x2", "type": "quantitative", "title": "Assumed strike (degrees)", "scale": {"domain": [0, 90], "nice": false, "zero": false}},
     "y": {"field": "y2", "type": "quantitative", "title": "Size of diagonal", "scale": {"domain": [-0.075, 2.5], "nice": false, "zero": false}},
     "angle": {"field": "ang", "type": "quantitative", "scale": null}
    }},
   {"data": {"name": "tb"}, "transform": [{"filter": "datum.k == 'lab'"}],
    "mark": {"type": "text", "font": "Liberation Sans", "fontWeight": "bold", "fontSize": 22, "align": "center", "baseline": "middle", "color": "black", "clip": false},
    "encoding": {"x": {"field": "x", "type": "quantitative"}, "y": {"field": "y", "type": "quantitative"}, "text": {"field": "t"}}},
   {"data": {"name": "tb"}, "transform": [{"filter": "datum.k == 'ttl'"}],
    "mark": {"type": "text", "font": "Liberation Sans", "fontSize": 23.3, "align": "center", "baseline": "middle", "color": "black", "clip": false},
    "encoding": {"x": {"field": "x", "type": "quantitative"}, "y": {"field": "y", "type": "quantitative"}, "text": {"field": "t"}}},
   {"data": {"name": "tb"}, "transform": [{"filter": "datum.k == 'win'"}],
    "mark": {"type": "text", "font": "Liberation Sans", "fontSize": 22.5, "align": "center", "baseline": "middle", "color": "black"},
    "encoding": {"x": {"field": "x", "type": "quantitative"}, "y": {"field": "y", "type": "quantitative"}, "text": {"field": "t"}}},
   {"data": {"name": "tb"}, "transform": [{"filter": "datum.k == 'ann'"}],
    "mark": {"type": "text", "font": "Liberation Sans", "fontWeight": "bold", "fontSize": 16.5, "align": "center", "baseline": "middle", "color": "black"},
    "encoding": {"x": {"field": "x", "type": "quantitative"}, "y": {"field": "y", "type": "quantitative"}, "text": {"field": "t"}}}
  ]
 }
]
}
